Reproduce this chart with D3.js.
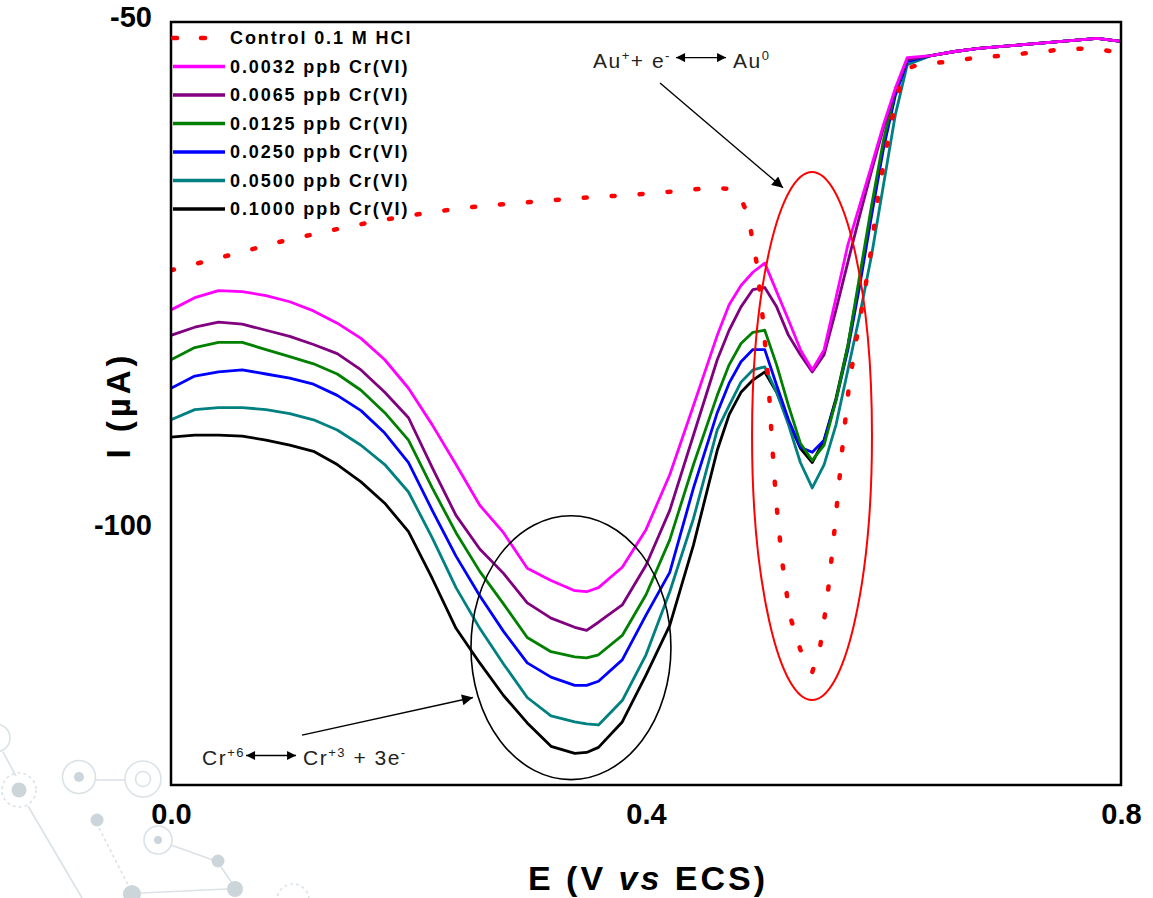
<!DOCTYPE html>
<html><head><meta charset="utf-8">
<script src="https://cdn.jsdelivr.net/npm/d3@7"></script>
<style>
body{margin:0;background:#fff;}
svg{display:block;font-family:"Liberation Sans",Arial,Helvetica,sans-serif;}
</style>
</head><body>
<svg id="chart" width="1153" height="898"></svg>
<script>
// ---------------- DATA ----------------
const potential = [0,0.02,0.04,0.06,0.08,0.10,0.12,0.14,0.16,0.18,0.20,0.22,0.24,0.26,0.28,0.30,0.32,0.34,0.35,0.36,0.38,0.40,0.42,0.44,0.46,0.47,0.48,0.49,0.50,0.51,0.52,0.53,0.54,0.55,0.56,0.57,0.58,0.59,0.60,0.61,0.62,0.64,0.66,0.68,0.70,0.72,0.74,0.76,0.78,0.80];

const cr0032 = [-78.3,-77.1,-76.4,-76.5,-76.9,-77.5,-78.4,-79.6,-81.1,-83.2,-86.0,-89.6,-93.5,-97.5,-100.2,-103.7,-104.9,-105.9,-106.0,-105.6,-103.6,-99.9,-94.5,-87.7,-80.8,-77.8,-75.9,-74.6,-73.7,-76.5,-79.3,-82.2,-84.2,-82.2,-77.1,-71.9,-68.0,-64.1,-60.1,-56.5,-53.5,-53.3,-52.9,-52.6,-52.4,-52.2,-52.0,-51.8,-51.6,-51.9];
const cr0065 = [-80.8,-80.0,-79.5,-79.7,-80.3,-80.9,-81.7,-82.6,-84.2,-86.4,-88.9,-93.8,-98.5,-101.8,-104.2,-107.1,-108.6,-109.5,-109.8,-109.0,-107.3,-103.4,-98.0,-90.6,-83.2,-80.3,-78.0,-76.3,-76.1,-78.0,-80.8,-82.7,-84.4,-82.7,-78.3,-73.6,-69.0,-64.6,-60.4,-56.7,-53.7,-53.3,-52.9,-52.6,-52.4,-52.2,-52.0,-51.8,-51.6,-51.9];
const cr0125 = [-83.2,-82.0,-81.5,-81.5,-82.2,-82.9,-83.6,-84.6,-86.2,-88.4,-91.1,-95.8,-100.2,-104.0,-107.2,-110.5,-111.9,-112.4,-112.5,-112.2,-110.3,-106.3,-100.9,-93.5,-86.7,-83.7,-81.6,-80.5,-80.3,-83.7,-87.7,-91.4,-93.1,-91.6,-87.2,-81.8,-74.9,-68.0,-61.6,-56.7,-53.7,-53.3,-52.9,-52.6,-52.4,-52.2,-52.0,-51.8,-51.6,-51.9];
const cr0250 = [-86.0,-84.8,-84.4,-84.2,-84.6,-85.0,-85.6,-86.7,-88.2,-90.4,-93.3,-98.0,-102.5,-106.4,-109.9,-113.0,-114.4,-115.2,-115.2,-114.8,-112.7,-108.3,-104.1,-95.8,-88.4,-85.5,-83.4,-82.2,-82.2,-85.7,-89.1,-91.8,-92.3,-91.1,-87.2,-82.2,-75.9,-69.0,-62.4,-57.2,-53.9,-53.3,-52.9,-52.6,-52.4,-52.2,-52.0,-51.8,-51.6,-51.9];
const cr0500 = [-89.1,-88.1,-87.9,-87.9,-88.1,-88.5,-89.1,-90.1,-91.6,-93.5,-96.2,-100.7,-105.6,-109.6,-113.1,-116.4,-118.2,-118.8,-119.0,-119.1,-116.7,-112.2,-106.0,-98.8,-90.1,-87.7,-85.4,-84.2,-83.9,-86.4,-89.6,-93.3,-95.8,-93.5,-89.6,-84.2,-78.8,-72.9,-66.0,-59.1,-54.2,-53.3,-52.9,-52.6,-52.4,-52.2,-52.0,-51.8,-51.6,-51.9];
const cr1000 = [-90.8,-90.6,-90.6,-90.7,-91.1,-91.6,-92.2,-93.5,-95.2,-97.3,-100.1,-104.7,-109.6,-113.0,-116.2,-118.9,-121.2,-121.9,-121.8,-121.3,-118.8,-114.2,-109.3,-101.4,-92.1,-88.6,-86.4,-85.2,-84.4,-86.4,-89.3,-91.9,-93.3,-91.1,-87.0,-81.8,-75.4,-68.5,-62.1,-56.9,-53.7,-53.3,-52.9,-52.6,-52.4,-52.2,-52.0,-51.8,-51.6,-51.9];

const controlPotential = [0,0.05,0.092,0.134,0.176,0.218,0.26,0.302,0.344,0.387,0.429,0.454,0.471,0.479,0.486,0.4935,0.4985,0.503,0.506,0.5095,0.5145,0.521,0.53,0.54,0.5465,0.5525,0.5575,0.562,0.566,0.571,0.577,0.583,0.589,0.595,0.602,0.608,0.614,0.622,0.629,0.654,0.679,0.702,0.726,0.75,0.774,0.8];
const controlCurrent = [-74.4,-72.9,-71.6,-70.5,-69.5,-68.7,-68.1,-67.7,-67.3,-67.0,-66.6,-66.3,-66.4,-67.1,-69.0,-73.9,-79.3,-85.2,-91.1,-97.0,-102.9,-108.3,-111.7,-113.9,-111.5,-106.8,-101.4,-96.0,-91.1,-85.7,-81.3,-77.3,-72.9,-67.5,-62.6,-59.1,-56.2,-54.5,-54.2,-53.9,-53.5,-53.3,-53.0,-52.7,-52.6,-53.0];

const seriesNames = ["0.0032 ppb Cr(VI)","0.0065 ppb Cr(VI)","0.0125 ppb Cr(VI)","0.0250 ppb Cr(VI)","0.0500 ppb Cr(VI)","0.1000 ppb Cr(VI)"];
const seriesValues = [cr0032, cr0065, cr0125, cr0250, cr0500, cr1000];
const controlName = "Control 0.1 M HCl";

const xTicks = [0, 0.4, 0.8];
const xTickLabels = ["0.0", "0.4", "0.8"];
const yTicks = [-50, -100];
const yTickLabels = ["-50", "-100"];

// ---------------- STYLE ----------------
const seriesColors = ["#ff00ff", "#800080", "#008000", "#0000ff", "#008080", "#000000"];
const controlColor = "#ff0000";

const W = 1153, H = 898;
const pL = 171, pR = 1121, pT = 22, pB = 785;

const svg = d3.select("#chart");
svg.append("rect").attr("width", W).attr("height", H).attr("fill", "#fff");

// ---- decorative background network (lower-left) ----
const deco = svg.append("g").attr("class", "deco");
const ringC = "#dbe2e6", dotC = "#ccd5da";
function ring(cx, cy, r, dashed) {
  deco.append("circle").attr("cx", cx).attr("cy", cy).attr("r", r)
    .attr("fill", "none").attr("stroke", ringC).attr("stroke-width", 1.6)
    .attr("stroke-dasharray", dashed ? "3 3" : null);
}
function dot(cx, cy, r) { deco.append("circle").attr("cx", cx).attr("cy", cy).attr("r", r).attr("fill", dotC); }
function seg(x1, y1, x2, y2, dashed) {
  deco.append("line").attr("x1", x1).attr("y1", y1).attr("x2", x2).attr("y2", y2)
    .attr("stroke", ringC).attr("stroke-width", 1.6).attr("stroke-dasharray", dashed ? "3 3" : null);
}
ring(-4, 738, 14); seg(3, 752, 16, 776);
ring(19, 790, 17, true); dot(19, 790, 7.5);
seg(28, 806, 82, 898);
ring(79, 777, 16.5); dot(79, 777, 5);
seg(96, 780, 125, 780);
ring(143, 779, 18); ring(143, 779, 7.5);
dot(97, 820, 6.5); seg(99, 828, 129, 887, true);
ring(158, 840, 14); dot(158, 840, 4);
seg(171, 845, 213, 860); dot(218, 861, 6.5);
seg(221, 867, 232, 883); dot(235, 889, 8);
dot(132, 894, 9); seg(141, 893, 227, 889);
ring(293, 900, 16, true);

// ---------------- SCALES ----------------
const x = d3.scaleLinear().domain([0, 0.8]).range([pL, pR]);
const y = d3.scaleLinear().domain([-125, -50]).range([pB, pT]);

svg.append("clipPath").attr("id", "plotClip").append("rect")
  .attr("x", pL).attr("y", pT).attr("width", pR - pL).attr("height", pB - pT);

const plot = svg.append("g").attr("clip-path", "url(#plotClip)");

// ---------------- CURVES ----------------
const line = d3.line().x((d, i) => x(potential[i])).y(d => y(d));
for (let k = seriesValues.length - 1; k >= 0; k--) {
  plot.append("path").datum(seriesValues[k])
    .attr("d", line).attr("fill", "none")
    .attr("stroke", seriesColors[k]).attr("stroke-width", 2.8)
    .attr("stroke-linejoin", "round");
}
const controlLine = d3.line().x((d, i) => x(controlPotential[i])).y(d => y(d));
plot.append("path").datum(controlCurrent)
  .attr("d", controlLine).attr("fill", "none")
  .attr("stroke", controlColor).attr("stroke-width", 4.5)
  .attr("stroke-linecap", "round").attr("stroke-dasharray", "3 25");

// ---------------- FRAME & AXES ----------------
svg.append("rect").attr("x", pL).attr("y", pT).attr("width", pR - pL).attr("height", pB - pT)
  .attr("fill", "none").attr("stroke", "#000").attr("stroke-width", 2.5);

const xAxis = d3.axisBottom(x).tickValues(xTicks).tickSize(0).tickPadding(18)
  .tickFormat((d, i) => xTickLabels[i]);
const gx = svg.append("g").attr("transform", `translate(0,${pB})`).call(xAxis);
gx.select(".domain").remove();
gx.selectAll("text").attr("font-size", 29).attr("font-weight", "bold").attr("fill", "#000")
  .attr("font-family", '"Liberation Sans",Arial,sans-serif');

const yAxis = d3.axisLeft(y).tickValues(yTicks).tickSize(0).tickPadding(19)
  .tickFormat((d, i) => yTickLabels[i]);
const gy = svg.append("g").attr("transform", `translate(${pL},0)`).call(yAxis);
gy.select(".domain").remove();
gy.selectAll("text").attr("font-size", 29).attr("font-weight", "bold").attr("fill", "#000")
  .attr("dy", "0.14em").attr("font-family", '"Liberation Sans",Arial,sans-serif');

// axis titles
svg.append("text").attr("transform", "translate(130,405) rotate(-90)")
  .attr("text-anchor", "middle").attr("font-size", 33).attr("font-weight", "bold")
  .attr("letter-spacing", 4).text("I (µA)");
const xt = svg.append("text").attr("x", 648).attr("y", 890).attr("text-anchor", "middle")
  .attr("font-size", 34).attr("font-weight", "bold").attr("letter-spacing", 3);
xt.append("tspan").text("E (V ");
xt.append("tspan").attr("font-style", "italic").text("vs");
xt.append("tspan").text(" ECS)");

// ---------------- LEGEND ----------------
const legend = svg.append("g");
const legendRows = [controlName].concat(seriesNames);
const legendColors = [controlColor].concat(seriesColors);
legendRows.forEach((name, i) => {
  const cy = 38 + i * 28.5;
  if (i === 0) {
    [175, 203].forEach(cx => legend.append("line").attr("x1", cx - 2).attr("x2", cx + 2)
      .attr("y1", cy).attr("y2", cy).attr("stroke", controlColor).attr("stroke-width", 4.5)
      .attr("stroke-linecap", "round"));
  } else {
    legend.append("line").attr("x1", 173).attr("x2", 225).attr("y1", cy).attr("y2", cy)
      .attr("stroke", legendColors[i]).attr("stroke-width", 3.5);
  }
  legend.append("text").attr("x", 230).attr("y", cy).attr("dy", "0.36em")
    .attr("font-size", 18).attr("font-weight", "bold").attr("letter-spacing", 1.9)
    .attr("fill", "#000").text(name);
});

// ---------------- ANNOTATIONS ----------------
const defs = svg.append("defs");
defs.append("marker").attr("id", "headSmall").attr("viewBox", "0 0 10 10")
  .attr("refX", 10).attr("refY", 5).attr("markerWidth", 11).attr("markerHeight", 9)
  .attr("markerUnits", "userSpaceOnUse").attr("orient", "auto-start-reverse")
  .append("path").attr("d", "M0,0 L10,5 L0,10 z").attr("fill", "#000");
defs.append("marker").attr("id", "headBig").attr("viewBox", "0 0 10 10")
  .attr("refX", 10).attr("refY", 5).attr("markerWidth", 15).attr("markerHeight", 11)
  .attr("markerUnits", "userSpaceOnUse").attr("orient", "auto")
  .append("path").attr("d", "M0,0 L10,5 L0,10 z").attr("fill", "#000");

const ann = svg.append("g");
ann.append("ellipse").attr("cx", x(0.3368)).attr("cy", y(-111.5))
  .attr("rx", x(0.0842) - x(0)).attr("ry", y(-125) - y(-125 + 12.97))
  .attr("fill", "none").attr("stroke", "#000").attr("stroke-width", 1.6);
ann.append("ellipse").attr("cx", x(0.5398)).attr("cy", y(-90.7))
  .attr("rx", x(0.0505) - x(0)).attr("ry", y(-125) - y(-125 + 25.95))
  .attr("fill", "none").attr("stroke", "#ff0000").attr("stroke-width", 2);

function arrow(v1, i1, v2, i2, marker, startMarker) {
  ann.append("line").attr("x1", x(v1)).attr("y1", y(i1)).attr("x2", x(v2)).attr("y2", y(i2))
    .attr("stroke", "#000").attr("stroke-width", 1.4)
    .attr("marker-end", `url(#${marker})`)
    .attr("marker-start", startMarker ? `url(#${marker})` : null);
}
arrow(0.4118, -56.0, 0.5154, -66.3, "headBig");
arrow(0.1103, -120.1, 0.2543, -116.4, "headBig");
arrow(0.4253, -53.5, 0.4674, -53.5, "headSmall", true);
arrow(0.0632, -122.1, 0.1053, -122.1, "headSmall", true);

function chemText(v, i, parts) {
  const t = ann.append("text").attr("x", x(v)).attr("y", y(i))
    .attr("font-size", 21).attr("letter-spacing", 1.5).attr("fill", "#222");
  let shifted = false;
  parts.forEach(p => {
    const ts = t.append("tspan").text(p.t);
    if (p.sup && !shifted) { ts.attr("dy", -8).attr("font-size", 13); shifted = true; }
    else if (p.sup) { ts.attr("font-size", 13); }
    else if (shifted) { ts.attr("dy", 8); shifted = false; }
  });
}
chemText(0.3554, -54.5, [{t: "Au"}, {t: "+", sup: true}, {t: "+ e"}, {t: "-", sup: true}]);
chemText(0.4733, -54.5, [{t: "Au"}, {t: "0", sup: true}]);
chemText(0.0261, -123.0, [{t: "Cr"}, {t: "+6", sup: true}]);
chemText(0.1112, -123.0, [{t: "Cr"}, {t: "+3", sup: true}, {t: " + 3e"}, {t: "-", sup: true}]);
</script>
</body></html>
